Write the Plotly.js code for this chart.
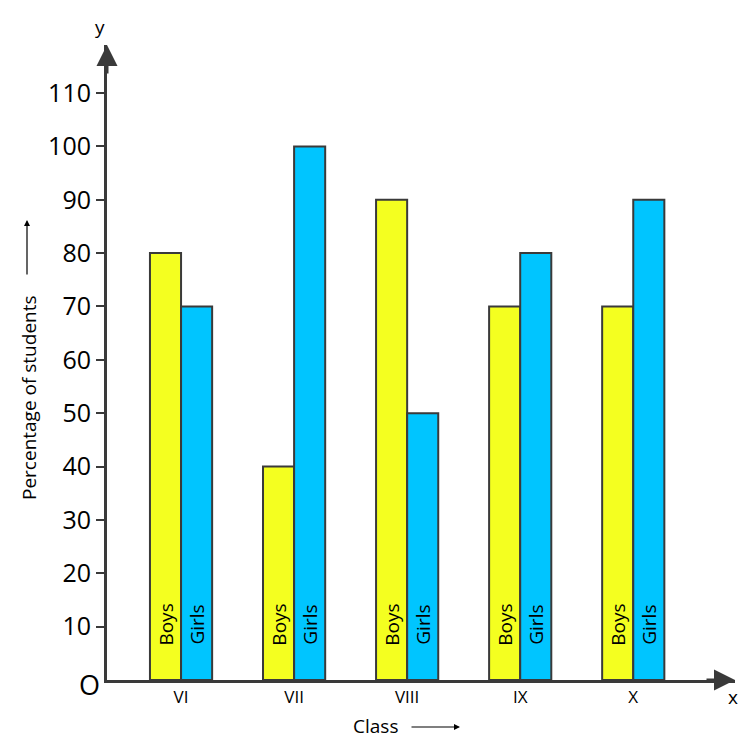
<!DOCTYPE html>
<html>
<head>
<meta charset="utf-8">
<script src="https://cdn.plot.ly/plotly-3.0.1.min.js"></script>
<style>
  body { margin: 0; background: #fff; }
  #chart { width: 750px; height: 746px; }
</style>
</head>
<body>
<div id="chart"></div>
<script>
// data
var classes = ['VI', 'VII', 'VIII', 'IX', 'X'];
var boys = [80, 40, 90, 70, 70];
var girls = [70, 100, 50, 80, 90];
var yTicks = [10, 20, 30, 40, 50, 60, 70, 80, 90, 100, 110];

var axisColor = '#3a3a3a';
var font = 'Open Sans, Lato, sans-serif';
var W = 628, H = 635; // plot area in px

var boysTrace = {
    x: classes,
    y: boys,
    name: 'Boys',
    type: 'bar',
    marker: {color: '#f4ff20', line: {color: axisColor, width: 2}},
    hoverinfo: 'x+y+name'
};
var girlsTrace = {
    x: classes,
    y: girls,
    name: 'Girls',
    type: 'bar',
    marker: {color: '#00c5ff', line: {color: axisColor, width: 2}},
    hoverinfo: 'x+y+name'
};

// plain text label placed by pixel offset from the plot's bottom-left corner
function label(px, py, text, size, angle) {
    return {x: px / W, y: py / H, xref: 'paper', yref: 'paper', text: text,
        xanchor: 'center', yanchor: 'middle', textangle: angle || 0, showarrow: false,
        font: {family: font, size: size, color: '#000'}};
}

// "Boys" / "Girls" written up the bottom of each bar
var annotations = [];
classes.forEach(function (c) {
    annotations.push({x: c, y: 10.3, xref: 'x', yref: 'y', xshift: -15.5, text: 'Boys',
        xanchor: 'center', yanchor: 'middle',
        textangle: -90, showarrow: false, font: {family: font, size: 19, color: '#000'}});
    annotations.push({x: c, y: 10.3, xref: 'x', yref: 'y', xshift: 15.5, text: 'Girls',
        xanchor: 'center', yanchor: 'middle',
        textangle: -90, showarrow: false, font: {family: font, size: 19, color: '#000'}});
});

// axis arrow heads
annotations.push({x: 0, y: 1, xref: 'paper', yref: 'paper', ax: 0, ay: 30, text: '',
    showarrow: true, arrowhead: 2, arrowsize: 1.4, arrowwidth: 3, arrowcolor: axisColor});
annotations.push({x: 1, y: 0, xref: 'paper', yref: 'paper', ax: -30, ay: 0, text: '',
    showarrow: true, arrowhead: 2, arrowsize: 1.4, arrowwidth: 3, arrowcolor: axisColor});

// letters round the axes
annotations.push(label(-7, H + 18, 'y', 19));
annotations.push(label(626, -17, 'x', 19));
annotations.push(label(-18, -4, 'O', 27));

// axis titles with their little arrows
annotations.push(label(268, -46, 'Class', 19));
annotations.push({x: 353 / W, y: -47 / H, xref: 'paper', yref: 'paper', ax: -50, ay: 0,
    text: '', showarrow: true, arrowhead: 2, arrowsize: 1, arrowwidth: 1.2, arrowcolor: '#000'});
annotations.push(label(-78, 282, 'Percentage of students', 19, -90));
annotations.push({x: -80 / W, y: 460 / H, xref: 'paper', yref: 'paper', ax: 0, ay: 56,
    text: '', showarrow: true, arrowhead: 2, arrowsize: 1, arrowwidth: 1.2, arrowcolor: '#000'});

var layout = {
    width: 750,
    height: 746,
    margin: {l: 107, r: 15, t: 45, b: 66},
    paper_bgcolor: '#fff',
    plot_bgcolor: '#fff',
    showlegend: false,
    barmode: 'group',
    bargap: 0.45,
    bargroupgap: 0,
    font: {family: font, color: '#000'},
    xaxis: {
        type: 'category',
        range: [-0.655, 4.9],
        showline: true,
        linecolor: axisColor,
        linewidth: 3,
        showgrid: false,
        zeroline: false,
        ticks: '',
        tickfont: {family: font, size: 17, color: '#000'}
    },
    yaxis: {
        range: [0, 119],
        tickvals: yTicks,
        showline: true,
        linecolor: axisColor,
        linewidth: 3,
        showgrid: false,
        zeroline: false,
        ticks: 'outside',
        ticklen: 8,
        tickwidth: 2,
        tickcolor: axisColor,
        tickfont: {family: font, size: 25, color: '#000'}
    },
    annotations: annotations
};

Plotly.newPlot('chart', [boysTrace, girlsTrace], layout, {displayModeBar: false});
</script>
</body>
</html>
